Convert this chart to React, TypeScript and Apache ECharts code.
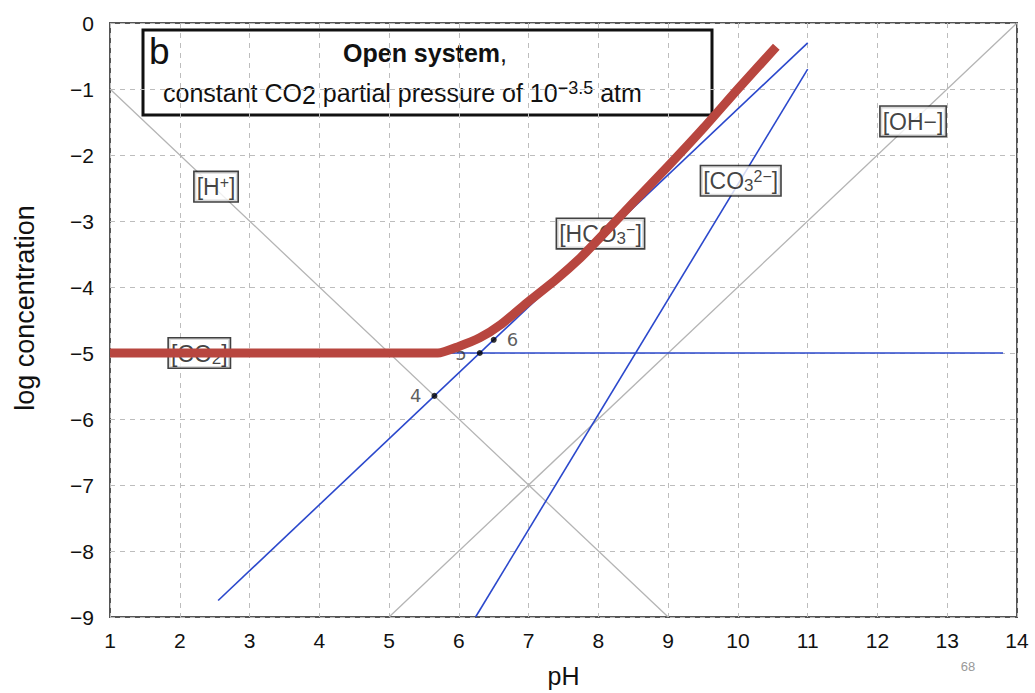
import React, { useEffect, useRef } from "react";
import * as echarts from "echarts";

// ---- data ----
const xTicks = [1, 2, 3, 4, 5, 6, 7, 8, 9, 10, 11, 12, 13, 14];
const yTicks = [0, -1, -2, -3, -4, -5, -6, -7, -8, -9];

const hPlusLine = [[1, -1], [9, -9]];
const ohLine = [[5, -9], [14, 0]];
const co2Line = [[1, -5], [13.8, -5]];
const hco3Line = [[2.55, -8.75], [11, -0.3]];
const co3Line = [[6.24, -9], [11, -0.7]];
const totalCarbon = [
  [1, -5], [5.7, -5], [6.0, -4.9], [6.3, -4.77], [6.6, -4.57], [7.0, -4.22],
  [7.4, -3.88], [7.74, -3.56], [8.0, -3.28], [8.5, -2.72], [9.0, -2.17],
  [9.5, -1.6], [10.0, -1.0], [10.55, -0.36],
];
const markedPoints = [
  { value: [5.65, -5.65], name: "4", pos: "left" },
  { value: [6.3, -5.0], name: "5", pos: "left" },
  { value: [6.5, -4.8], name: "6", pos: "right" },
];
const speciesLabels = [
  { value: [2.52, -2.48], text: "[H{sup|+}]" },
  { value: [12.51, -1.49], text: "[OH−]" },
  { value: [10.04, -2.39], text: "[CO{sub|3}{sup|2−}]" },
  { value: [8.03, -3.19], text: "[HCO{sub|3}{sup|−}]" },
  { value: [2.28, -5.0], text: "[CO{sub|2}]" },
];

const FONT = "'Liberation Sans', Arial, Helvetica, sans-serif";
const BLUE = "#2b48cc";
const GRAY = "#b4b4b4";
const RED = "#b8463f";

export default function App() {
  const ref = useRef<HTMLDivElement>(null);
  useEffect(() => {
    if (!ref.current) return;
    const chart = echarts.init(ref.current, undefined, { renderer: "svg" });
    const thinLine = (data: number[][], color: string, width: number) => ({
      type: "line",
      data,
      symbol: "none",
      z: 2,
      lineStyle: { color, width },
      silent: true,
    });
    const option: any = {
      animation: false,
      backgroundColor: "#ffffff",
      grid: {
        left: 110,
        right: 18,
        top: 23,
        bottom: 76,
        containLabel: false,
        outerBoundsMode: "none",
        show: true,
        borderColor: "#555",
        borderWidth: 2,
        backgroundColor: "transparent",
      },
      xAxis: {
        type: "value",
        min: xTicks[0],
        max: xTicks[xTicks.length - 1],
        interval: 1,
        name: "pH",
        nameLocation: "middle",
        nameGap: 46,
        nameTextStyle: { fontSize: 25, color: "#111", fontFamily: FONT },
        axisLine: { show: false },
        axisTick: { show: false },
        axisLabel: { fontSize: 21, color: "#111", fontFamily: FONT, margin: 13 },
        splitLine: { show: true, lineStyle: { color: "#bdbdbd", type: [5, 5], width: 1 } },
      },
      yAxis: {
        type: "value",
        min: yTicks[yTicks.length - 1],
        max: yTicks[0],
        interval: 1,
        axisLine: { show: false },
        axisTick: { show: false },
        axisLabel: {
          fontSize: 21,
          color: "#111",
          fontFamily: FONT,
          margin: 16,
          formatter: (v: number) => (v === 0 ? "0" : "−" + Math.abs(v)),
        },
        splitLine: { show: true, lineStyle: { color: "#bdbdbd", type: [5, 5], width: 1 } },
      },
      series: [
        thinLine(hPlusLine, GRAY, 1.3),
        thinLine(ohLine, GRAY, 1.3),
        thinLine(co2Line, BLUE, 1.6),
        thinLine(hco3Line, BLUE, 1.6),
        thinLine(co3Line, BLUE, 1.6),
        {
          type: "scatter",
          z: 3,
          symbolSize: 0,
          silent: true,
          data: speciesLabels.map((d) => ({ value: d.value, text: d.text })),
          label: {
            show: true,
            position: "inside",
            formatter: (p: any) => p.data.text,
            backgroundColor: "#ffffff",
            borderColor: "#111",
            borderWidth: 1.6,
            padding: [2, 2, 1, 2],
            fontSize: 23,
            color: "#111",
            fontFamily: FONT,
            lineHeight: 26,
            rich: {
              sub: { fontSize: 17, fontFamily: FONT, color: "#111", verticalAlign: "bottom", lineHeight: 17, padding: [9, 0, 0, 0] },
              sup: { fontSize: 16, fontFamily: FONT, color: "#111", verticalAlign: "top", lineHeight: 16, padding: [0, 0, 9, 0] },
            },
          },
        },
        {
          type: "scatter",
          z: 3,
          symbol: "circle",
          symbolSize: 6,
          silent: true,
          itemStyle: { color: "#000" },
          data: markedPoints.map((d) => ({
            value: d.value,
            name: d.name,
            label: { position: d.pos },
          })),
          label: {
            show: true,
            formatter: (p: any) => p.name,
            fontSize: 18,
            color: "#333",
            fontFamily: "'DejaVu Sans', Verdana, sans-serif",
            distance: 10,
          },
        },
        {
          type: "line",
          z: 5,
          data: totalCarbon,
          symbol: "none",
          smooth: 0.2,
          silent: true,
          lineStyle: { color: RED, width: 9, cap: "butt", join: "round" },
        },
      ],
      graphic: [
        {
          type: "group",
          z: 100,
          children: [
            {
              type: "rect",
              shape: { x: 143, y: 30, width: 569, height: 85 },
              style: { fill: "#fff", stroke: "#111", lineWidth: 3 },
            },
            {
              type: "text",
              x: 149,
              y: 33,
              style: { text: "b", fontSize: 37, fontFamily: FONT, fill: "#111" },
            },
            {
              type: "text",
              x: 425,
              y: 53,
              style: {
                text: "{b|Open system},",
                fontSize: 25,
                fontFamily: FONT,
                fill: "#111",
                align: "center",
                verticalAlign: "middle",
                rich: { b: { fontSize: 25, fontWeight: "bold", fontFamily: FONT, fill: "#111" } },
              },
            },
            {
              type: "text",
              x: 163,
              y: 93,
              style: {
                text: "constant CO{sub|2} partial pressure of 10{sup|−3.5} atm",
                fontSize: 25,
                fontFamily: FONT,
                fill: "#111",
                align: "left",
                verticalAlign: "middle",
                lineHeight: 28,
                rich: {
                  sub: { fontSize: 25, fontFamily: FONT, fill: "#111", verticalAlign: "bottom", lineHeight: 25, padding: [10, 0, 0, 0] },
                  sup: { fontSize: 18, fontFamily: FONT, fill: "#111", verticalAlign: "top", lineHeight: 18, padding: [0, 0, 12, 0] },
                },
              },
            },
          ],
        },
        {
          type: "text",
          x: 25,
          y: 308,
          rotation: Math.PI / 2,
          style: {
            text: "log concentration",
            fontSize: 27,
            fontFamily: FONT,
            fill: "#111",
            align: "center",
            verticalAlign: "middle",
          },
        },
        {
          type: "text",
          x: 968,
          y: 666,
          style: { text: "68", fontSize: 13, fontFamily: FONT, fill: "#999", align: "center", verticalAlign: "middle" },
        },
      ],
    };
    chart.setOption(option);
    return () => chart.dispose();
  }, []);
  return (
    <div
      ref={ref}
      style={{ position: "fixed", left: 0, top: 0, width: 1035, height: 693, background: "#fff" }}
    />
  );
}
